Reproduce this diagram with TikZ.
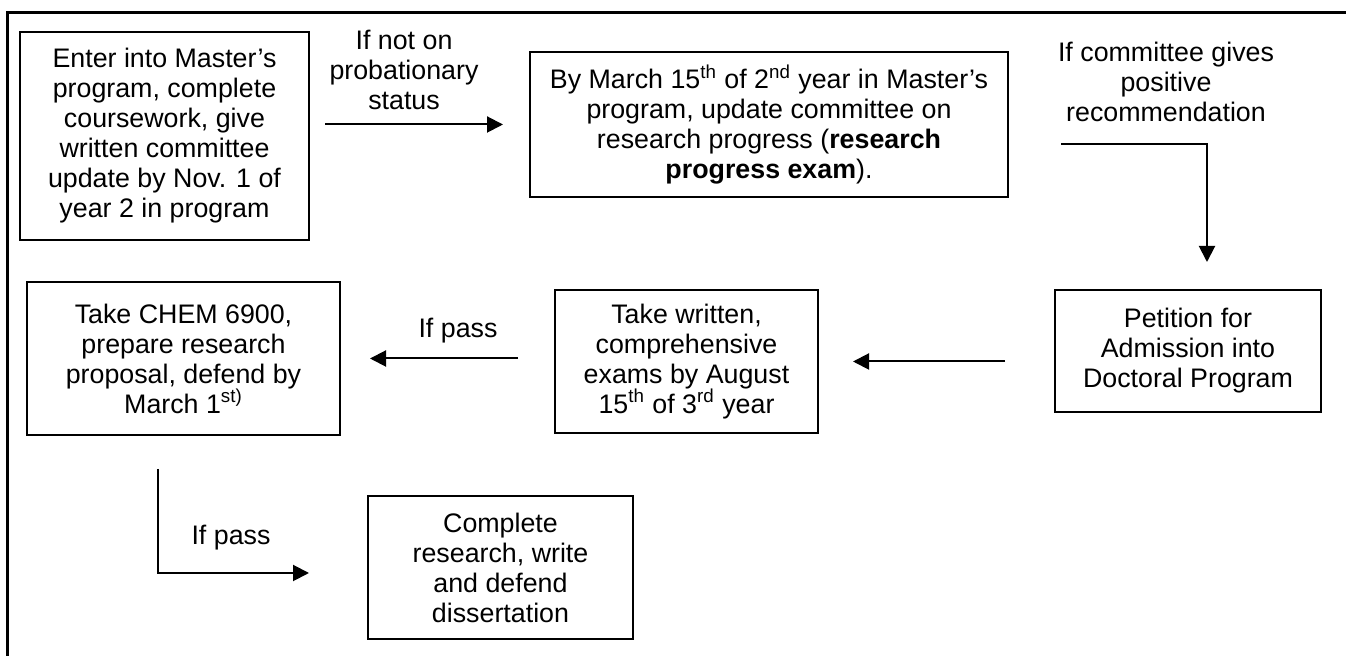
\documentclass[tikz,border=0pt]{standalone}
\usepackage{fontspec}
\setmainfont{Liberation Sans}
\usetikzlibrary{arrows.meta}

\begin{document}
\begin{tikzpicture}[x=0.5pt,y=-0.5pt,
    font=\fontsize{13.4}{15}\selectfont,
    box/.style={draw, line width=1pt, align=center, inner sep=0pt},
    lbl/.style={align=center, inner sep=0pt},
    arr/.style={line width=1pt, -{Triangle[length=8pt,width=8pt]}}]
        \useasboundingbox (0,0) rectangle (1346,656);
        %
        \draw [line width=1.5pt] (7,656) -- (7,13) -- (1346,13);
        %
        \node [box, minimum width=144.5pt, minimum height=104pt] (enter) at (164.5,136)
          {Enter into Master’s\\program, complete\\coursework, give\\written committee\\update by Nov. 1 of\\year 2 in program};
        \node [box, minimum width=239pt, minimum height=72.5pt] (update) at (769,124.5)
          {By March 15\textsuperscript{th} of 2\textsuperscript{nd} year in Master’s\\program, update committee on\\research progress (\textbf{research}\\\textbf{progress exam}).};
        \node [box, minimum width=133pt, minimum height=61pt] (petition) at (1188,351)
          {Petition for\\Admission into\\Doctoral Program};
        \node [box, minimum width=131.5pt, minimum height=71.5pt] (comps) at (686.5,361.5)
          {Take written,\\comprehensive\\exams by August\\15\textsuperscript{th} of 3\textsuperscript{rd} year};
        \node [box, minimum width=156.5pt, minimum height=76.5pt] (proposal) at (183.5,358.5)
          {Take CHEM 6900,\\prepare research\\proposal, defend by\\March 1\textsuperscript{st)}};
        \node [box, minimum width=132.5pt, minimum height=71.5pt] (defend) at (500.5,567.5)
          {Complete\\research, write\\and defend\\dissertation};
        %
        \node [lbl] (ifprob) at (404,70) {If not on\\probationary\\status};
        \node [lbl] (ifpos) at (1166,82) {If committee gives\\positive\\recommendation};
        \node [lbl] (ifpass) at (458,331) {If pass};
        \node [lbl] (ifpassb) at (231,538) {If pass};
        %
        \coordinate (turn) at (1061,144);
        \draw [arr, shorten <=7.5pt, shorten >=13pt] (enter.east |- update.west) -- (update.west);
        \draw [arr, shorten >=13.5pt] (turn) -| ([xshift=9.5pt]petition.north);
        \draw [arr, shorten <=24.5pt, shorten >=17pt] (petition.west |- comps.east) -- (comps.east);
        \draw [arr, shorten <=18pt, shorten >=14.5pt] (comps.west |- proposal.east) -- (proposal.east);
        \draw [arr, shorten <=16.5pt, shorten >=29pt] ([xshift=-12.75pt]proposal.south) |- ([yshift=-2.75pt]defend.west);
\end{tikzpicture}
\end{document}
